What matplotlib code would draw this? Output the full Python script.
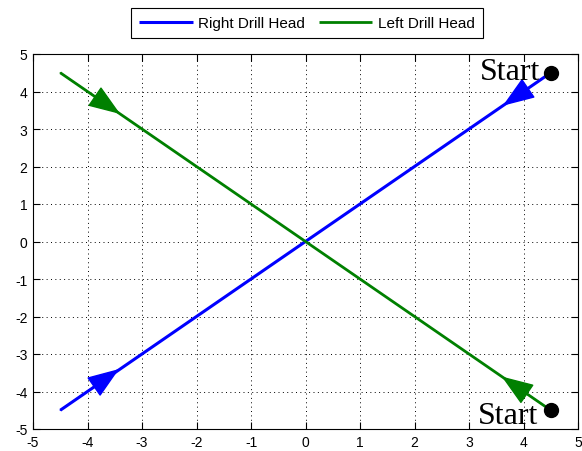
import matplotlib
matplotlib.use("Agg")
import matplotlib.pyplot as plt

# ---- data ----
right_x = [4.5, -4.5]
right_y = [4.5, -4.5]
left_x = [-4.5, 4.5]
left_y = [4.5, -4.5]
start_x = [4.5, 4.5]
start_y = [4.5, -4.5]
start_label = "Start"
# arrow heads: (tail = line end, tip)
right_arrow_tail_x = [4.5, -4.5]
right_arrow_tail_y = [4.5, -4.5]
right_arrow_tip_x = [3.62, -3.42]
right_arrow_tip_y = [3.62, -3.4]
left_arrow_tail_x = [-4.5, 4.5]
left_arrow_tail_y = [4.5, -4.5]
left_arrow_tip_x = [-3.4, 3.6]
left_arrow_tip_y = [3.4, -3.6]
ticks = [-5, -4, -3, -2, -1, 0, 1, 2, 3, 4, 5]
labels = ["Right Drill Head", "Left Drill Head"]

BLUE = (0, 0, 1)
GREEN = (0, 0.5, 0)

fig = plt.figure(figsize=(5.82, 4.52), dpi=100)
ax = fig.add_axes([33/582, 22/452, 545/582, 375/452])

l1, = ax.plot(right_x, right_y, color=BLUE, lw=2.2, solid_capstyle="butt")
l2, = ax.plot(left_x, left_y, color=GREEN, lw=2.0, solid_capstyle="butt")

astyle = "-|>,head_length=2.05,head_width=0.75"
for tx, ty, hx, hy in zip(right_arrow_tail_x, right_arrow_tail_y, right_arrow_tip_x, right_arrow_tip_y):
    ax.annotate("", xy=(hx, hy), xytext=(tx, ty),
                arrowprops=dict(arrowstyle=astyle, color=BLUE, lw=1.0, shrinkA=0, shrinkB=0))
for tx, ty, hx, hy in zip(left_arrow_tail_x, left_arrow_tail_y, left_arrow_tip_x, left_arrow_tip_y):
    ax.annotate("", xy=(hx, hy), xytext=(tx, ty),
                arrowprops=dict(arrowstyle=astyle, color=GREEN, lw=1.0, shrinkA=0, shrinkB=0))

ax.plot(start_x, start_y, "o", color="black", markersize=10, zorder=5)
ax.text(start_x[0] - 0.2, start_y[0] - 0.17, start_label, ha="right", va="baseline",
        fontsize=23, family="Liberation Serif", color="black")
ax.text(start_x[1] - 0.23, start_y[1] - 0.34, start_label, ha="right", va="baseline",
        fontsize=23, family="Liberation Serif", color="black")

ax.set_xlim(-5, 5)
ax.set_ylim(-5, 5)
ax.set_xticks(ticks)
ax.set_yticks(ticks)
ax.set_xticklabels([str(t) for t in ticks], family="Liberation Sans", fontsize=10)
ax.set_yticklabels([str(t) for t in ticks], family="Liberation Sans", fontsize=10)
ax.tick_params(direction="in", length=5, width=0.8, top=True, right=True, pad=4)
ax.grid(True, color="black", linestyle=(0, (1, 3.5)), linewidth=0.7)
for s in ax.spines.values():
    s.set_linewidth(0.8)
    s.set_color("black")

leg = fig.legend([l1, l2], labels, loc="center", bbox_to_anchor=(307/582, 1 - 24/452),
                 ncol=2, frameon=True, fancybox=False, edgecolor="black",
                 prop={"family": "Liberation Sans", "size": 11},
                 handlelength=3.5, handletextpad=0.35, columnspacing=0.9,
                 borderpad=0.55, framealpha=1)
leg.get_frame().set_linewidth(0.8)

fig.savefig("out.png", dpi=100)
